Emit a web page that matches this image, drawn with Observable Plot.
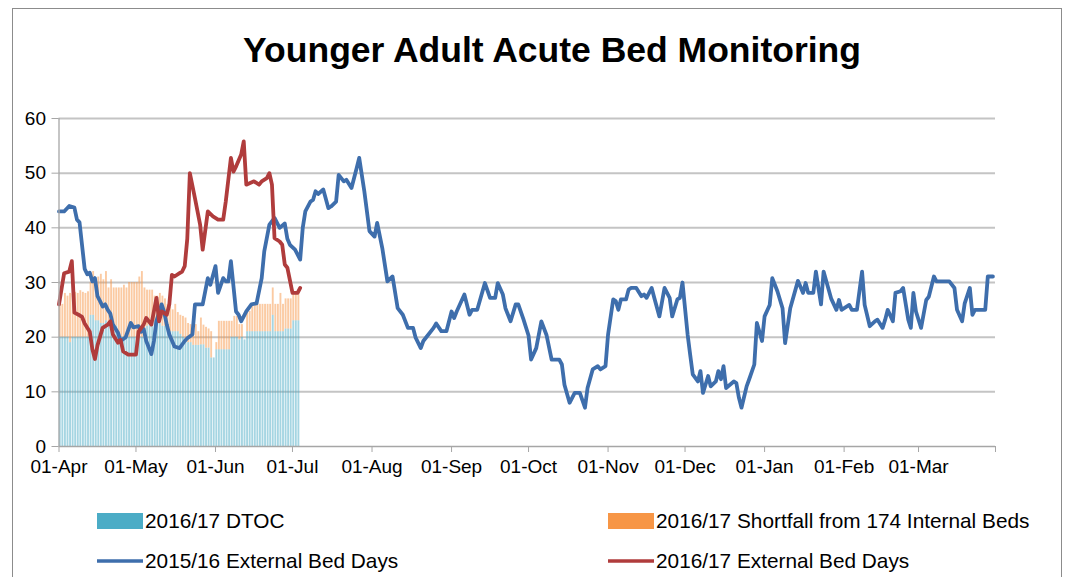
<!DOCTYPE html>
<html><head><meta charset="utf-8">
<script src="https://cdn.jsdelivr.net/npm/d3@7"></script>
<script src="https://cdn.jsdelivr.net/npm/@observablehq/plot@0.6"></script>
<style>
body{margin:0;background:#fff;font-family:"Liberation Sans",Arial,sans-serif;}
#wrap{position:relative;width:1078px;height:577px;overflow:hidden;background:#fff;}
#frame{position:absolute;left:12px;top:8px;width:1050px;height:620px;border:1px solid #8c8c8c;box-sizing:border-box;}
#title{position:absolute;left:13px;width:1078px;top:33px;text-align:center;font-weight:bold;font-size:35.5px;line-height:35.5px;color:#000;}
#chart{position:absolute;left:0;top:90px;}
#legend{position:absolute;left:0;top:490px;}
</style></head><body>
<div id="wrap">
  <div id="frame"></div>
  <div id="title">Younger Adult Acute Bed Monitoring</div>
  <div id="chart"></div>
  <svg id="legend" width="1078" height="87"></svg>
</div>
<script>
// ---- data (day offsets are days since 01-Apr) ----
const yTicks = [0, 10, 20, 30, 40, 50, 60];
const seriesNames = ["2016/17 DTOC", "2016/17 Shortfall from 174 Internal Beds", "2015/16 External Bed Days", "2016/17 External Bed Days"];
const seriesColors = ["#4bacc6", "#f79646", "#3e6eac", "#b03c3c"];

const dtoc1617 = [20,20,20,20,19,20,20,20,20,20,20,20,
  24,24,23,23,22.5,22.5,23,22.5,22,22,22,
  20,20,20,20,20,20,20,20,20,20,20,
  22,22.5,22.5,23,22.5,22.5,22,22,
  21.5,21,21,21,21,20.5,20,19.5,
  19,19,18.5,18.5,18.5,18.6,18.6,18,18,
  16.2,16.2,
  17.7,17.7,17.7,17.7,17.7,17.7,
  20,20,20,19.5,20,19.5,
  21,21,21,21,21,21,21,21,21,21,
  24,21,21,21,21,21.5,21.5,21.5,23,23,23];

const shortfall1617 = [6,6,8,7.5,9,7.8,8.2,8,8.5,8.2,8,8.3,
  6,8,7.5,8,9,8,9,6.5,8.5,7,7,
  9,9,9.5,9,10,10,10,10,11,12,9,
  6.6,6.1,6.1,4.5,5,5.5,5.5,5,
  4.5,4.5,4,5,3.5,3.5,3.8,4,
  3.5,3.3,3.5,3.8,2.5,4.9,3.6,3.8,3.5,
  4.8,0,
  1.3,5.2,5.2,5.2,5.2,5.2,
  2.9,3.8,3.8,2.8,2.3,0,
  3.7,3.7,5,5,5,5,5,5,5,5,
  5,5,5,7,5,5.5,5.5,5.5,4.8,4.8,4.8];

const ext1516 = [[0,43],[2,43],[4,44],[6,43.7],[7,41.5],[8,41],[10,32.5],[11,31.5],[12,31.8],[13,30.2],[14,30.8],[15,27.5],[16,26.6],[17,25.6],[18,26],[19,25],[20,24.3],[21,22.3],[23,20.8],[24,19.3],[26,20],[28,22.6],[29,21.8],[31,22],[32,21],[33,21.5],[34,19.3],[36,16.9],[37,19.3],[38,23],[40,26],[41,24.6],[42,22.3],[43,20.5],[45,18.3],[47,18],[49,19.3],[50,19.8],[52,20.5],[53,26],[56,26],[58,30.8],[59,29.6],[61,33],[62,28.1],[64,30.8],[65,30.2],[66,30.2],[67,33.9],[69,24.7],[70,24.1],[71,22.9],[73,24.7],[75,26],[77,26.2],[79,30.8],[80,35.7],[82,40.6],[84,41.8],[86,40],[88,40.8],[89,38],[90,36.9],[92,36],[94,34.2],[95,40],[96,43],[98,44.8],[99,45.1],[100,46.7],[101,46.2],[103,47],[105,43.6],[106,43.9],[108,44.8],[109,49.7],[111,48.5],[112,48.8],[114,47.3],[116,50.9],[117,52.8],[119,46.7],[121,39.4],[123,38.4],[124,40.9],[126,36.3],[128,30.2],[130,31.1],[132,25.3],[134,24.1],[136,21.7],[138,21.7],[139,19.9],[141,18],[142,19.3],[143,19.9],[146,21.7],[147,22.5],[149,21.1],[151,21.1],[153,24.7],[154,23.5],[155,24.7],[158,27.8],[160,24.1],[161,25],[163,25],[166,29.9],[168,27.2],[170,27.2],[171,29.9],[173,27.8],[174,25.3],[176,22.9],[178,26],[179,26],[181,23.3],[183,20.3],[184,15.9],[186,18],[188,22.9],[190,20.4],[192,15.9],[195,15.9],[196,15],[197,11.3],[199,8],[201,9.8],[203,9.8],[205,7.1],[206,10.7],[208,14.1],[210,14.7],[211,14.1],[213,14.7],[214,20.5],[216,26.9],[217,26.6],[218,25],[219,26.9],[221,26.9],[222,28.7],[223,29],[225,29],[227,27.5],[228,27.8],[229,27.2],[231,29],[232,27.2],[234,23.8],[236,29],[238,27.2],[239,23.8],[241,26.9],[242,27.2],[243,30],[245,20.5],[246,16.8],[247,13.2],[249,11.9],[250,13.8],[251,9.8],[253,12.9],[254,11],[256,11.9],[257,13.8],[258,12.3],[259,14.7],[260,10.7],[263,11.9],[264,11.6],[265,8.9],[266,7.1],[268,11],[269,12.3],[271,15],[272,22.6],[274,19.3],[275,23.8],[277,25.9],[278,30.8],[280,28.4],[282,25.3],[283,18.9],[285,25.3],[288,30.3],[290,28.1],[291,29.9],[292,28.1],[294,28.1],[295,32],[297,26],[298,32],[301,27],[303,25],[304,26.8],[305,25],[308,25.9],[309,25],[311,25],[313,32],[314,25.9],[316,22],[318,22.9],[319,23.2],[321,21.7],[322,23.2],[323,25],[325,22.9],[326,28.1],[328,28.4],[329,29],[331,23.2],[332,21.7],[333,28.1],[334,24.7],[336,21.7],[338,26.8],[339,27.4],[341,31.1],[342,30.2],[347,30.2],[349,29],[350,25],[352,22.9],[353,26.2],[355,29],[356,24.1],[357,25],[361,25],[362,31.1],[364,31.1]];

const ext1617 = [[0,26],[2,31.7],[4,32],[5,33.9],[6,24.5],[8,24],[9,23.7],[10,22.5],[12,21],[13,17.8],[14,16],[15,18.5],[17,21.7],[19,22.3],[20,22.9],[21,20.5],[23,19],[24,19.5],[25,17.4],[27,16.8],[30,16.8],[31,21],[33,22.3],[34,23.5],[36,22.3],[38,27.2],[39,22.9],[40,24.7],[42,24.1],[43,26],[44,31.4],[45,31.1],[47,31.7],[48,32],[49,33],[50,38],[51,50],[53,45.4],[55,40.6],[56,36],[58,43],[60,42.1],[62,41.5],[64,41.5],[65,44.8],[67,52.8],[68,50.3],[69,51.2],[71,53.4],[72,55.8],[73,47.9],[76,48.5],[78,47.9],[79,48.5],[81,49.1],[82,50],[83,47.9],[84,38.1],[86,37.5],[87,36.9],[88,33.3],[89,32.7],[91,28.1],[93,28.1],[94,29]];

// ---- build ----
const startDate = new Date(Date.UTC(2015, 3, 1));
const endDate = new Date(Date.UTC(2016, 2, 31));
const dayOf = d => d3.utcDay.offset(startDate, d);
const monthTicks = d3.utcMonth.range(startDate, endDate);
const xTicks = [...monthTicks, endDate];
const fmt = d3.utcFormat("%d-%b");

const dtocRows = dtoc1617.map((v, i) => ({x1: dayOf(i), x2: dayOf(i + 1), y1: 0, y2: v}));
const shortRows = shortfall1617.map((v, i) => ({x1: dayOf(i), x2: dayOf(i + 1), y1: dtoc1617[i], y2: dtoc1617[i] + v}));
const line1516 = ext1516.map(([d, v]) => ({date: dayOf(d), value: v}));
const line1617 = ext1617.map(([d, v]) => ({date: dayOf(d), value: v}));

const axisGrey = "#a6a6a6";
const chart = Plot.plot({
  width: 1078, height: 400,
  marginLeft: 58.5, marginRight: 83, marginTop: 28, marginBottom: 44,
  x: {type: "utc", domain: [startDate, endDate]},
  y: {domain: [0, 60]},
  style: {fontFamily: "'Liberation Sans', Arial, sans-serif", fontSize: "19px", color: "#000", background: "transparent", overflow: "visible"},
  marks: [
    Plot.ruleY(yTicks.slice(1), {stroke: "#c4c4c4", strokeWidth: 2}),
    Plot.rect(dtocRows, {x1: "x1", x2: "x2", y1: "y1", y2: "y2", fill: seriesColors[0], fillOpacity: 0.5, insetLeft: 0.35, insetRight: 0.35}),
    Plot.rect(shortRows, {x1: "x1", x2: "x2", y1: "y1", y2: "y2", fill: seriesColors[1], fillOpacity: 0.5, insetLeft: 0.35, insetRight: 0.35}),
    Plot.line(line1516, {x: "date", y: "value", stroke: seriesColors[2], strokeWidth: 3.8, strokeLinejoin: "round"}),
    Plot.line(line1617, {x: "date", y: "value", stroke: seriesColors[3], strokeWidth: 3.8, strokeLinejoin: "round"}),
    Plot.axisY({ticks: yTicks, tickSize: 7, tickPadding: 6, stroke: axisGrey, label: null}),
    Plot.axisX({ticks: xTicks, tickFormat: d => (+d === +endDate ? "" : fmt(d)), tickSize: 6, tickPadding: 7, stroke: axisGrey, label: null}),
    Plot.ruleX([startDate], {stroke: axisGrey, strokeWidth: 1.3}),
    Plot.ruleY([0], {stroke: axisGrey, strokeWidth: 1.3})
  ]
});
document.getElementById("chart").appendChild(chart);

// ---- legend ----
const leg = d3.select("#legend");
const legendItems = seriesNames.map((name, i) => ({name, color: seriesColors[i], kind: i < 2 ? "box" : "line", col: i % 2, row: Math.floor(i / 2)}));
const colX = [97, 608], rowY = [31, 71];
legendItems.forEach(it => {
  const x = colX[it.col], y = rowY[it.row];
  if (it.kind === "box") {
    leg.append("rect").attr("x", x).attr("y", y - 8).attr("width", 46).attr("height", 16).attr("fill", it.color);
  } else {
    leg.append("line").attr("x1", x).attr("x2", x + 46).attr("y1", y).attr("y2", y).attr("stroke", it.color).attr("stroke-width", 3.5);
  }
  leg.append("text").attr("x", x + 48).attr("y", y).attr("dy", "0.35em")
    .attr("font-family", "'Liberation Sans', Arial, sans-serif").attr("font-size", 20.8).attr("fill", "#000").text(it.name);
});
</script>
</body></html>
